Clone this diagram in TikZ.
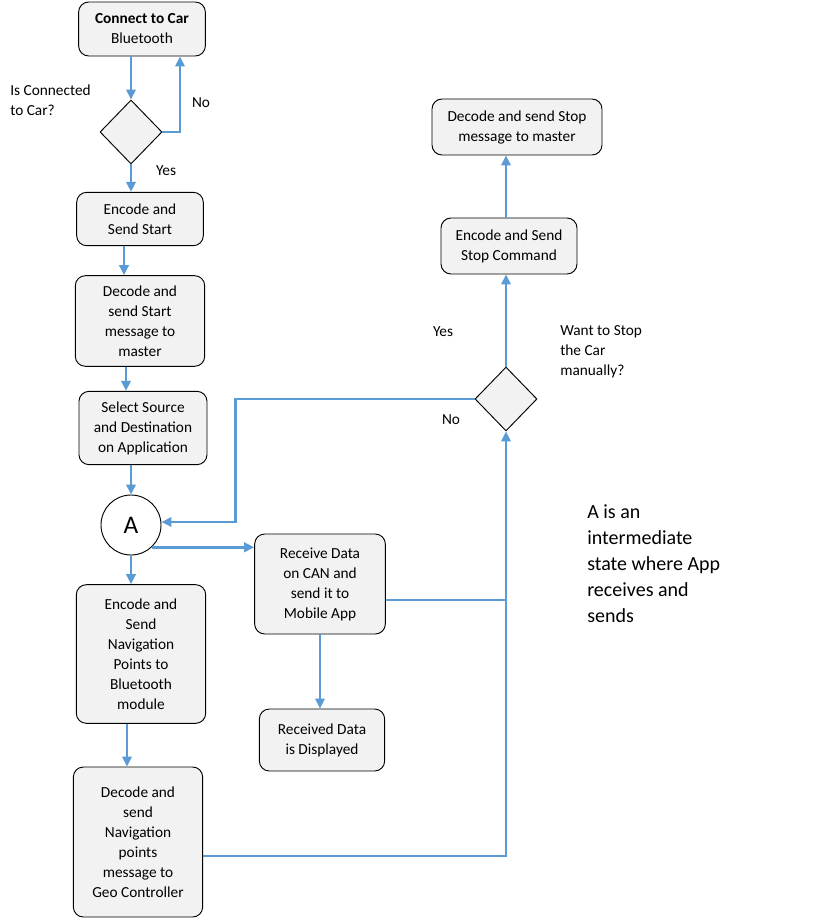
\documentclass[tikz,border=0pt]{standalone}
\usepackage{fontspec}
\setmainfont{Carlito}
\usetikzlibrary{
  arrows.meta,      % Triangle tips
  calc,             % shifted anchors
  positioning,
  shapes.geometric  % diamond
}
\definecolor{flowblue}{RGB}{91,155,213}
\definecolor{boxgray}{RGB}{242,242,242}
\tikzset{
  stepbox/.style={
    draw=black,
    fill=boxgray,
    rounded corners=7.5pt,
    line width=0.7pt,
    align=center,
    inner sep=2pt,
    font=\fontsize{11.5}{15}\selectfont
  },
  decision/.style={
    diamond,
    draw=black,
    fill=boxgray,
    line width=0.7pt,
    inner sep=0pt,
    minimum width=46.5pt,
    minimum height=48pt
  },
  state/.style={
    circle,
    draw=black,
    fill=white,
    line width=0.7pt,
    minimum size=45pt,
    inner sep=0pt,
    font=\fontsize{19}{20}\selectfont
  },
  flow/.style={
    -{Triangle[length=7.5pt,width=7pt]},
    draw=flowblue,
    line width=2.2pt
  },
  wire/.style={
    draw=flowblue,
    line width=2.2pt
  },
  note/.style={
    align=left,
    inner sep=0pt,
    font=\fontsize{11.5}{15}\selectfont
  }
}

\begin{document}
\begin{tikzpicture}[x=0.75pt, y=-0.75pt]
  % page frame, one unit = one pixel of the reference
  \useasboundingbox (0,0) rectangle (819,920);

  % left column
  \node[stepbox, minimum width=95pt, minimum height=40.5pt] (conn) at (142,29)
    {\textbf{Connect to Car}\\Bluetooth};
  \node[decision] (dconn) at (131,132) {};
  \node[stepbox, minimum width=95pt, minimum height=40pt] (start) at (140,219)
    {Encode and\\Send Start};
  \node[stepbox, minimum width=97pt, minimum height=68pt] (decstart) at (140,321)
    {Decode and\\send Start\\message to\\master};
  \node[stepbox, minimum width=96pt, minimum height=55pt] (select) at (143,428)
    {Select Source\\and Destination\\on Application};
  \node[state] (A) at (131,525) {A};
  \node[stepbox, minimum width=97pt, minimum height=104pt] (navenc) at (141,654)
    {Encode and\\Send\\Navigation\\Points to\\Bluetooth\\module};
  \node[stepbox, minimum width=97pt, minimum height=112.5pt] (navdec) at (138,842)
    {Decode and\\send\\Navigation\\points\\message to\\Geo Controller};

  % middle column
  \node[stepbox, minimum width=98pt, minimum height=75pt] (recv) at (320,584)
    {Receive Data\\on CAN and\\send it to\\Mobile App};
  \node[stepbox, minimum width=94pt, minimum height=46.5pt] (shown) at (322,740)
    {Received Data\\is Displayed};

  % right column
  \node[decision] (dstop) at (506,399) {};
  \node[stepbox, minimum width=102pt, minimum height=42pt] (encstop) at (509,246)
    {Encode and Send\\Stop Command};
  \node[stepbox, minimum width=127.5pt, minimum height=42pt] (decstop) at (517,127)
    {Decode and send Stop\\message to master};

  % labels
  \node[note, anchor=west] (qconn) at (10,100) {Is Connected\\to Car?};
  \node[note] (noconn) at (201,103) {No};
  \node[note] (yesconn) at (166,171) {Yes};
  \node[note, anchor=west] (qstop) at (560,352) {Want to Stop\\the Car\\manually?};
  \node[note] (yesstop) at (443,332) {Yes};
  \node[note] (nostop) at (451,420) {No};
  \node[note, anchor=west, font=\fontsize{15}{19.5}\selectfont] (remark) at (587,564)
    {A is an\\intermediate\\state where App\\receives and\\sends};

  % connectors, left column
  \draw[flow] (conn.south -| dconn.north) -- (dconn.north);
  \draw[flow] (dconn.east) -| ($(conn.south)+(38,0)$);
  \draw[flow] (dconn.south) -- (dconn.south |- start.north);
  \draw[flow] ($(start.south)+(-16,0)$) -- ($(decstart.north)+(-16,0)$);
  \draw[flow] ($(decstart.south)+(-14,0)$) -- ($(select.north)+(-17,0)$);
  \draw[flow] (select.south -| A.north) -- (A.north);
  \draw[flow] (A.south) -- (A.south |- navenc.north);
  \draw[flow] ($(navenc.south)+(-14,0)$) -- ($(navdec.north)+(-11,0)$);

  % connectors, middle
  \draw[flow] (A.-47) -- (A.-47 -| recv.west);
  \draw[flow] (recv.south) -- (recv.south |- shown.north);
  \coordinate (recvout) at ($(recv.east)+(0,16)$);
  \draw[wire] (recvout) -- (recvout -| dstop.south);
  \coordinate (navout) at ($(navdec.east)+(0,14)$);
  \draw[flow] (navout) -| (dstop.south);

  % connectors, right column
  \draw[flow] (dstop.west) -| ($(A.east)+(74,-3)$) -- ($(A.east)+(0,-3)$);
  \draw[flow] (dstop.north) -- (dstop.north |- encstop.south);
  \draw[flow] (encstop.north -| dstop) -- (dstop |- decstop.south);
\end{tikzpicture}
\end{document}
